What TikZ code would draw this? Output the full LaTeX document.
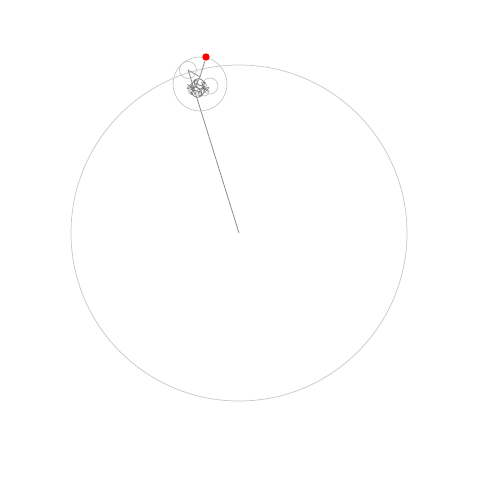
\documentclass[tikz,border=0pt]{standalone}
\usetikzlibrary{calc}
\tikzset{
  ring/.style={draw=black!22, line width=0.4pt},
  arm/.style={draw=black!45, line width=0.45pt},
  trace/.style={draw=black!50, line width=0.3pt},
}
\begin{document}
\begin{tikzpicture}[x=0.02cm,y=-0.02cm]
\useasboundingbox (0,0) rectangle (480,480);
% chain points
\coordinate (c0) at (239,233);
\coordinate (c1) at (191,79);
\coordinate (c2) at (200,84);
\coordinate (c3) at (188,70);
\coordinate (c4) at (210,86);
\coordinate (c5) at (200,77);
% circles
\draw[ring] (c0) circle (168);
\draw[ring] (c2) circle (27);
\draw[ring] (c3) circle (8.5);
\draw[ring] (c4) circle (8);
\draw[ring] (193,90) circle (5);
\draw[ring] (205,92) circle (4);
% arms
\draw[arm] (c0) -- (c1);
\draw[arm] (c1) -- (c3);
\draw[arm] (c3) -- (c5);
% traced tangle
\draw[trace, smooth, samples=400, domain=0:360, variable=\t]
  plot ({198 + 6*cos(\t) + 3*cos(13*\t) + 2.5*sin(17*\t)},
        {88 + 5*sin(\t) + 3*sin(13*\t) + 2.5*cos(19*\t)});
\draw[trace] (c5) -- (196,85);
\node[circle, fill=red, inner sep=0pt, minimum size=4.2pt] (tip) at (206,57) {};
\draw[arm] (c5) -- (tip);
\end{tikzpicture}
\end{document}
